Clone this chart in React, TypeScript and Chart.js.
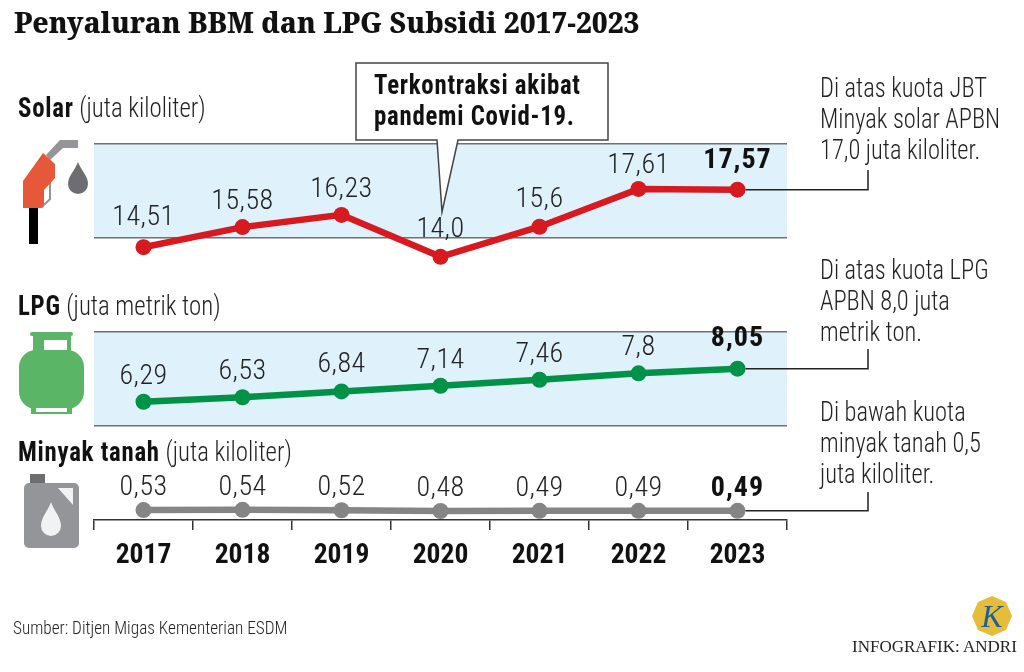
import React, { useEffect, useRef } from "react";
import { Chart, registerables } from "chart.js";

Chart.register(...registerables);

const years = ["2017", "2018", "2019", "2020", "2021", "2022", "2023"];
const solar = [14.51, 15.58, 16.23, 14.0, 15.6, 17.61, 17.57];
const lpg = [6.29, 6.53, 6.84, 7.14, 7.46, 7.8, 8.05];
const minyak = [0.53, 0.54, 0.52, 0.48, 0.49, 0.49, 0.49];
const solarLabels = ["14,51", "15,58", "16,23", "14,0", "15,6", "17,61", "17,57"];
const lpgLabels = ["6,29", "6,53", "6,84", "7,14", "7,46", "7,8", "8,05"];
const minyakLabels = ["0,53", "0,54", "0,52", "0,48", "0,49", "0,49", "0,49"];
const solarLift = [29, 25, 25, 27, 27, 23, 29];
const lpgLift = [25, 25, 26, 25, 25, 25, 30];
const minyakLift = [22, 22, 22, 22, 22, 22, 22];
const bands = [[15, 20], [5, 10]];

const NARROW = '"Roboto Condensed", Roboto, sans-serif';
const seriesLabels = [solarLabels, lpgLabels, minyakLabels];
const seriesLift = [solarLift, lpgLift, minyakLift];
const elbowTop = [170, 349, 492];

const customDraw = {
  id: "customDraw",
  beforeDraw(chart: any) {
    const { ctx, chartArea, scales } = chart;
    ctx.save();
    ctx.fillStyle = "#dff1fb";
    bands.forEach(([lo, hi]) => {
      const t = scales.y.getPixelForValue(hi);
      const b = scales.y.getPixelForValue(lo);
      ctx.fillRect(chartArea.left, t, chartArea.right - chartArea.left, b - t);
    });
    ctx.restore();
  },
  afterDatasetsDraw(chart: any) {
    const { ctx } = chart;
    ctx.save();
    // leader lines from the 2023 points
    ctx.strokeStyle = "#222";
    ctx.lineWidth = 1.5;
    chart.data.datasets.forEach((_: any, i: number) => {
      const pts = chart.getDatasetMeta(i).data;
      const p = pts[pts.length - 1];
      ctx.beginPath();
      ctx.moveTo(p.x + 8, p.y);
      ctx.lineTo(868, p.y);
      ctx.lineTo(868, elbowTop[i]);
      ctx.stroke();
    });
    // callout
    ctx.fillStyle = "#fff";
    ctx.strokeStyle = "#444";
    ctx.beginPath();
    ctx.moveTo(356, 63);
    ctx.lineTo(608, 63);
    ctx.lineTo(608, 140);
    ctx.lineTo(458, 140);
    ctx.lineTo(442, 212);
    ctx.lineTo(437, 140);
    ctx.lineTo(356, 140);
    ctx.closePath();
    ctx.fill();
    ctx.stroke();
    // value labels
    ctx.textAlign = "center";
    ctx.textBaseline = "middle";
    chart.data.datasets.forEach((_: any, i: number) => {
      chart.getDatasetMeta(i).data.forEach((p: any, j: number) => {
        const last = j === years.length - 1;
        ctx.font = `${last ? "700" : "300"} 28px ${NARROW}`;
        ctx.letterSpacing = last ? "1px" : "0.5px";
        ctx.fillStyle = last ? "#111" : "#222";
        ctx.fillText(seriesLabels[i][j], p.x, p.y - seriesLift[i][j]);
      });
    });
    ctx.restore();
  },
};

const box = (s: React.CSSProperties): React.CSSProperties => ({
  position: "absolute",
  whiteSpace: "nowrap",
  fontFamily: NARROW,
  fontWeight: 300,
  color: "#222",
  transformOrigin: "left top",
  ...s,
});

function Head({ x, y, b, t }: { x: number; y: number; b: string; t: string }) {
  return (
    <div style={box({ left: x, top: y, fontSize: 27, lineHeight: "30px", transform: "scaleX(0.92)" })}>
      <b style={{ color: "#111", fontWeight: 700, letterSpacing: 0.8 }}>{b}</b> {t}
    </div>
  );
}

function Note({ y, lines }: { y: number; lines: string[] }) {
  return (
    <div style={box({ left: 820, top: y, fontSize: 27, lineHeight: "31px", transform: "scaleX(0.905)" })}>
      {lines.map((l) => (
        <div key={l}>{l}</div>
      ))}
    </div>
  );
}

export default function App() {
  const ref = useRef<HTMLCanvasElement>(null);
  useEffect(() => {
    const chart = new Chart(ref.current!, {
      type: "line",
      data: {
        labels: years,
        datasets: [
          { label: "Solar", data: solar, borderColor: "#d71920", backgroundColor: "#d71920" },
          { label: "LPG", data: lpg, borderColor: "#009247", backgroundColor: "#009247" },
          { label: "Minyak tanah", data: minyak, borderColor: "#858585", backgroundColor: "#858585" },
        ],
      },
      options: {
        responsive: false,
        animation: false,
        layout: { padding: { left: 94, right: 237, top: 50, bottom: 0 } },
        elements: {
          line: { borderWidth: 6.5, tension: 0 },
          point: { radius: 8, borderWidth: 0, hoverRadius: 8 },
        },
        plugins: { legend: { display: false }, tooltip: { enabled: false }, title: { display: false } },
        scales: {
          x: {
            type: "category",
            offset: true,
            afterFit(s: any) {
              s.height = 152;
            },
            border: { display: true, color: "#333", width: 1.5 },
            grid: { offset: true, drawOnChartArea: false, drawTicks: true, tickLength: 10, color: "#333", lineWidth: 1.5 },
            ticks: {
              padding: 10,
              color: "#111",
              autoSkip: false,
              maxRotation: 0,
              font: { family: NARROW, size: 27.5, weight: "700" },
            },
          },
          y: {
            type: "linear",
            min: 0,
            max: 25,
            display: true,
            afterFit(s: any) {
              s.width = 0;
            },
            border: { display: false },
            grid: {
              drawTicks: false,
              lineWidth: 1.5,
              color: (c: any) => (c.tick.value > 0 && c.tick.value < 25 ? "#6f7072" : "rgba(0,0,0,0)"),
            },
            ticks: { display: false, stepSize: 5 },
          },
        },
      },
      plugins: [customDraw],
    } as any);
    return () => chart.destroy();
  }, []);

  return (
    <div style={{ position: "absolute", left: 0, top: 0, width: 1024, height: 672, background: "#fff", overflow: "hidden" }}>
      <canvas ref={ref} width={1024} height={672} style={{ position: "absolute", left: 0, top: 0 }} />

      <div style={{ position: "absolute", left: 14, top: 2, fontFamily: '"Noto Serif", "DejaVu Serif Condensed", serif', fontWeight: 800, fontSize: 28, lineHeight: "40px", color: "#111", whiteSpace: "nowrap", transformOrigin: "left top" }}>
        Penyaluran BBM dan LPG Subsidi 2017-2023
      </div>

      <Head x={18} y={93} b="Solar" t="(juta kiloliter)" />
      <Head x={18} y={291} b="LPG" t="(juta metrik ton)" />
      <Head x={18} y={437} b="Minyak tanah" t="(juta kiloliter)" />

      <div style={box({ left: 374, top: 70, fontSize: 27, lineHeight: "31px", fontWeight: 700, letterSpacing: 0.8, color: "#111", transform: "scaleX(0.92)" })}>
        <div>Terkontraksi akibat</div>
        <div>pandemi Covid-19.</div>
      </div>

      <Note y={73} lines={["Di atas kuota JBT", "Minyak solar APBN", "17,0 juta kiloliter."]} />
      <Note y={255} lines={["Di atas kuota LPG", "APBN 8,0 juta", "metrik ton."]} />
      <Note y={397} lines={["Di bawah kuota", "minyak tanah 0,5", "juta kiloliter."]} />

      <div style={box({ left: 13, top: 617, fontSize: 18.5, lineHeight: "22px", transform: "scaleX(0.93)" })}>Sumber: Ditjen Migas Kementerian ESDM</div>
      <div style={{ position: "absolute", left: 852, top: 638, fontFamily: '"Liberation Serif", serif', fontSize: 17, lineHeight: "18px", color: "#222", whiteSpace: "nowrap" }}>INFOGRAFIK: ANDRI</div>

      <svg width={1024} height={672} style={{ position: "absolute", left: 0, top: 0 }}>
        {/* fuel pump */}
        <polygon points="78,140 60,140 46,155 50,160 63,148 78,148" fill="#939598" />
        <path d="M44 181 h6 v18 l-6 6" fill="none" stroke="#939598" strokeWidth={2} />
        <rect x={29} y={207} width={9} height={37} fill="#000" />
        <path d="M43 153 L55 164 V178 L44 190 V205 Q44 208 41 208 H23 V181 Z" fill="#e6583a" />
        <path d="M78 162 C82 172 88 176 88 184 A10 10 0 0 1 68 184 C68 176 74 172 78 162 Z" fill="#6d6e71" />
        {/* LPG cylinder */}
        <rect x={30} y={332} width={43} height={4} rx={2} fill="#5ab567" />
        <path d="M33 336 H71 V352 H67 V340 H44 V352 H33 Z" fill="#5ab567" />
        <rect x={19} y={350} width={65} height={59} rx={17} fill="#5ab567" />
        <path d="M31 405 H72 V414 H31 Z" fill="#5ab567" />
        <rect x={36} y={408} width={31} height={4} fill="#fff" />
        {/* jerrycan */}
        <rect x={30} y={474} width={15} height={10} fill="#6d6e71" />
        <rect x={24} y={483} width={55} height={65} rx={5} fill="#939598" />
        <polygon points="58,488 73,488 73,505" fill="#f1f2f2" />
        <path d="M51 502 C54 511 61 517 61 526 A10 10 0 0 1 41 526 C41 517 48 511 51 502 Z" fill="#f1f2f2" />
        {/* logo */}
        <polygon points="992,596 1006,602 1012,616 1006,630 992,636 978,630 972,616 978,602" fill="#e6bd3a" />
        <text x={992} y={627} textAnchor="middle" fontFamily='"Liberation Serif", serif' fontStyle="italic" fontSize={32} fill="#1f5f99">K</text>
      </svg>
    </div>
  );
}
